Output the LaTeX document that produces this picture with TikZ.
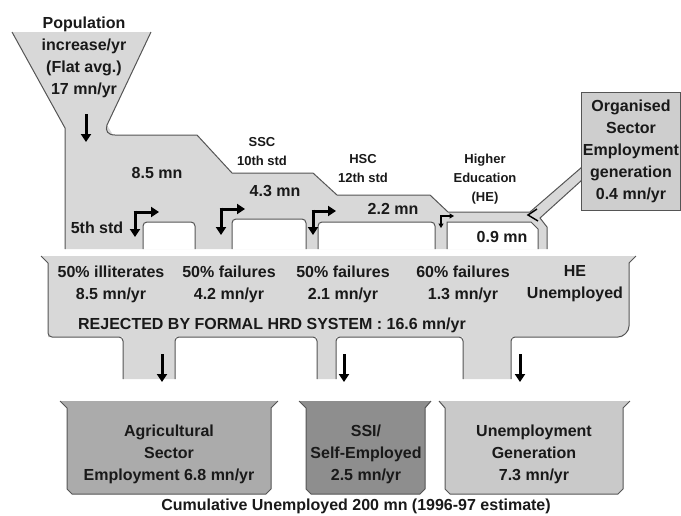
\documentclass[tikz,border=0pt]{standalone}
\usepackage{fontspec}
\setmainfont{Liberation Sans}
\usetikzlibrary{arrows.meta}
\definecolor{ink}{RGB}{25,25,25}
\definecolor{wall}{RGB}{85,85,85}
\definecolor{pipe}{RGB}{216,216,216}
\definecolor{agri}{RGB}{171,171,171}
\definecolor{ssi}{RGB}{142,142,142}
\definecolor{jobless}{RGB}{201,201,201}
\definecolor{orgfill}{RGB}{206,206,206}
\tikzset{
  every picture/.style={x=1pt, y=-1pt, line width=1pt, color=ink},
  txt/.style={font=\bfseries\fontsize{16}{22}\selectfont, align=center, inner sep=0pt, text=ink},
  stage/.style={txt, font=\bfseries\fontsize{13}{19}\selectfont},
  rim/.style={draw=wall, line width=1pt},
  hole/.style={rim, fill=white, rounded corners=4pt},
  orgbox/.style={txt, rim, fill=orgfill, minimum width=99pt, minimum height=118pt},
  drop/.style={-{Triangle[length=8pt,width=10pt]}, line width=3pt, color=black},
  dropthin/.style={-{Triangle[length=4.5pt,width=5pt]}, line width=1.4pt, color=black},
}

\begin{document}
\begin{tikzpicture}
  \useasboundingbox (0,0) rectangle (681,515);
  % formal system: funnel, stages, holes cut from below
  \fill[pipe] (12,32) -- (151,32) -- (107,125) -- (113,135) -- (197,135) -- (232,173) -- (313,173)
    -- (337,195) -- (430,195) -- (448,212) -- (530,212) -- (582,167) -- (582,180) -- (540,218)
    -- (547,227) -- (547,249) -- (65,249) -- (65,128) -- cycle;
  \filldraw[hole] (143,249) -- (143,222) -- (195,222) -- (195,249);
  \filldraw[hole] (232,249) -- (232,219) -- (306,219) -- (306,249);
  \filldraw[hole] (318,249) -- (318,222) -- (435,222) -- (435,249);
  \filldraw[hole, sharp corners] (447,249) -- (447,222) -- (531,222) -- (538,229) -- (538,249);
  \draw[rim] (12,32) -- (65,128) -- (65,249);
  \draw[rim] (151,32) -- (107,125) .. controls (105,131) and (108,135) .. (115,135) -- (197,135)
    -- (232,173) -- (313,173) -- (337,195) -- (430,195) -- (448,212) -- (530,212) -- (582,167);
  \draw[rim] (582,180) -- (540,218) -- (547,227) -- (547,249);
  \node[orgbox] (org) at (631,151) {Organised\\Sector\\Employment\\generation\\0.4 mn/yr};

  % rejected tray with three spouts
  \fill[pipe] (41,256) -- (636,256) -- (629,263) -- (629,330) -- (622,337) -- (511,337) -- (511,379)
    -- (463,379) -- (463,337) -- (336,337) -- (336,379) -- (317,379) -- (317,337) -- (175,337)
    -- (175,379) -- (123,379) -- (123,337) -- (48,337) -- (48,263) -- cycle;
  \draw[rim] (41,256) -- (48,263);
  \draw[rim] (636,256) -- (629,263);
  \draw[rim, rounded corners=4pt] (48,263) -- (48,337) -- (123,337) -- (123,379);
  \draw[rim, rounded corners=4pt] (175,379) -- (175,337) -- (317,337) -- (317,379);
  \draw[rim, rounded corners=4pt] (336,379) -- (336,337) -- (463,337) -- (463,379);
  \draw[rim, rounded corners=4pt] (511,379) -- (511,337) -- (622,337) -- (629,330) -- (629,263);

  % outlets
  \filldraw[rim, fill=agri] (60,401) -- (67,408) -- (67,489) -- (72,494) -- (266,494) -- (271,489) -- (271,408) -- (278,401);
  \filldraw[rim, fill=ssi] (299,401) -- (306,408) -- (306,489) -- (311,494) -- (420,494) -- (425,489) -- (425,408) -- (431,401);
  \filldraw[rim, fill=jobless] (439,401) -- (445,408) -- (445,489) -- (450,494) -- (618,494) -- (623,489) -- (623,408) -- (630,401);

  % flow marks: split arrows, one stroke each way from the corner
  \draw[drop] (86,114) -- (86,142);
  \draw[drop] (133.5,212) -- (159,212);   \draw[drop] (135,210.5) -- (135,237);
  \draw[drop] (219.5,209) -- (245,209);   \draw[drop] (221,207.5) -- (221,235);
  \draw[drop] (311.5,211) -- (336,211);   \draw[drop] (313,209.5) -- (313,235);
  \draw[dropthin] (440.3,216) -- (454,216); \draw[dropthin] (441,215.3) -- (441,228);
  \draw[black, line width=1.4pt] (537,209) -- (528,215) -- (538,221);
  \draw[drop] (162,354) -- (162,382);
  \draw[drop] (344,354) -- (344,382);
  \draw[drop] (520,354) -- (520,382);

  \node[txt] (pop) at (84,57) {Population\\increase/yr\\(Flat avg.)\\17 mn/yr};
  \node[txt] (amt5) at (157,173) {8.5 mn};
  \node[txt] (std5) at (97,228) {5th std};
  \node[stage] (ssc) at (262,152) {SSC\\10th std};
  \node[txt] (amt10) at (275,191) {4.3 mn};
  \node[stage] (hsc) at (363,169) {HSC\\12th std};
  \node[txt] (amt12) at (393,209) {2.2 mn};
  \node[stage] (higher) at (485,179) {Higher\\Education\\(HE)};
  \node[txt] (amtHE) at (502,237) {0.9 mn};

  \node[txt] (illit) at (111,284) {50\% illiterates\\8.5 mn/yr};
  \node[txt] (fail10) at (229,284) {50\% failures\\4.2 mn/yr};
  \node[txt] (fail12) at (343,284) {50\% failures\\2.1 mn/yr};
  \node[txt] (failHE) at (463,284) {60\% failures\\1.3 mn/yr};
  \node[txt] (heun) at (575,284) {HE\\Unemployed};
  \node[txt] (rejected) at (272,325) {REJECTED BY FORMAL HRD SYSTEM : 16.6 mn/yr};

  \node[txt] (agrtext) at (169,454) {Agricultural\\Sector\\Employment 6.8 mn/yr};
  \node[txt] (ssitext) at (366,454) {SSI/\\Self-Employed\\2.5 mn/yr};
  \node[txt] (jobtext) at (534,454) {Unemployment\\Generation\\7.3 mn/yr};
  \node[txt] (cumul) at (356,506) {Cumulative Unemployed 200 mn (1996-97 estimate)};
\end{tikzpicture}
\end{document}
